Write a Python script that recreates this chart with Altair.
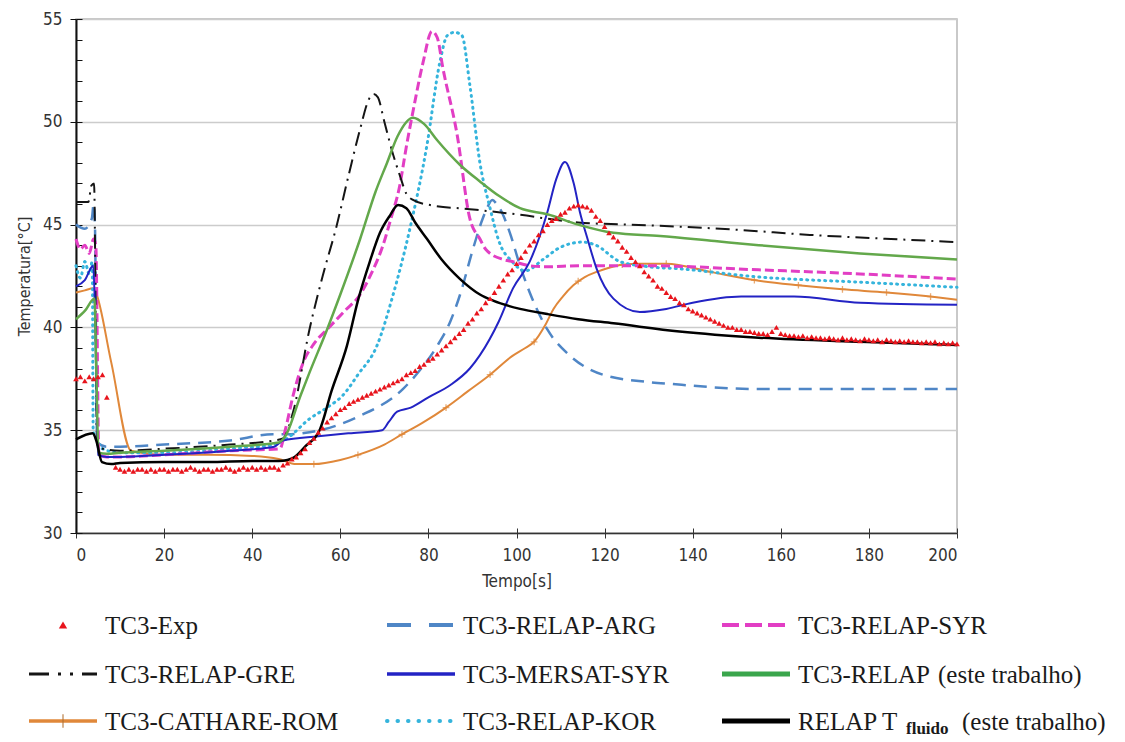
import altair as alt
import pandas as pd

# ---------------- data ----------------
# TC3-Exp (red triangles), sampled every second
exp_t = [0, 1, 2, 3, 4, 5, 6, 7] + list(range(9, 201))
exp_T = [37.5, 37.6, 37.4, 37.6, 37.5, 37.6, 37.7, 36.6,
         33.2, 33.1, 33.0, 33.1, 33.0, 33.1, 33.1, 33.0, 33.1, 33.0, 33.1, 33.1,
         33.0, 33.1, 33.1, 33.0, 33.1, 33.2, 33.1, 33.0, 33.1, 33.1,
         33.0, 33.1, 33.1, 33.2, 33.1, 33.0, 33.1, 33.2, 33.1, 33.2,
         33.1, 33.2, 33.1, 33.2, 33.2, 33.1, 33.3, 33.4, 33.6, 33.7,
         33.9, 34.1, 34.4, 34.6, 34.9, 35.1, 35.4, 35.6, 35.8, 36.0,
         36.1, 36.3, 36.4, 36.5, 36.6, 36.7, 36.8, 36.9, 37.0, 37.1,
         37.2, 37.3, 37.4, 37.5, 37.7, 37.8, 37.9, 38.1, 38.2, 38.4,
         38.5, 38.7, 38.9, 39.1, 39.3, 39.5, 39.7, 39.9, 40.2, 40.4,
         40.7, 40.9, 41.2, 41.4, 41.7, 42.0, 42.3, 42.6, 42.8, 43.1,
         43.4, 43.7, 44.0, 44.2, 44.5, 44.7, 45.0, 45.2, 45.3, 45.5,
         45.6, 45.8, 45.9, 45.95, 45.9, 45.85, 45.7, 45.4, 45.2, 44.9,
         44.6, 44.4, 44.2, 43.9, 43.7, 43.4, 43.2, 43.0, 42.7, 42.5,
         42.3, 42.0, 41.9, 41.7, 41.5, 41.4, 41.2, 41.1, 40.9, 40.8,
         40.7, 40.6, 40.5, 40.4, 40.3, 40.2, 40.1, 40.0, 40.0, 39.9,
         39.9, 39.8, 39.8, 39.75, 39.7, 39.7, 39.65, 39.8, 40.0, 39.7,
         39.65, 39.6, 39.6, 39.55, 39.6, 39.5, 39.55, 39.5, 39.5, 39.45,
         39.5, 39.45, 39.4, 39.5, 39.4, 39.45, 39.4, 39.35, 39.45, 39.4,
         39.35, 39.4, 39.3, 39.4, 39.35, 39.3, 39.35, 39.3, 39.35, 39.3,
         39.3, 39.25, 39.3, 39.25, 39.3, 39.2, 39.25, 39.2, 39.25, 39.2]

# TC3-RELAP-ARG
arg_t = [0, 2, 3.6, 4.0, 4.3, 4.8, 7, 10, 20, 35, 44.7, 48, 53, 64.5, 74.2, 78, 82, 85,
         87.2, 90.1, 92, 93.3, 94.5, 95.5, 96.3, 98.5, 100.8, 103, 107, 112, 119.6,
         129.6, 135, 155, 200]
arg_T = [45.0, 44.8, 45.3, 46.0, 45.0, 34.4, 34.2, 34.2, 34.3, 34.5, 34.8, 34.8, 34.9,
         35.7, 37.0, 37.9, 39.1, 40.3, 41.6, 43.8, 45.1, 45.8, 46.2, 46.0, 45.75, 44.6,
         43.0, 41.7, 39.9, 38.65, 37.7, 37.35, 37.25, 37.0, 37.0]

# TC3-RELAP-KOR
kor_t = [0, 1, 2, 3, 3.7, 3.9, 4.6, 6, 10, 20, 35, 45, 47.9, 53, 57, 60.6, 64, 68.3,
         72, 75.8, 79.7, 82.6, 84.3, 86, 87.6, 89.4, 91.7, 94, 96, 99, 102, 106, 110,
         115, 118, 123.5, 130, 137, 155, 178, 200]
kor_T = [43.0, 42.4, 43.2, 42.6, 43.2, 35.0, 34.6, 34.1, 33.9, 33.9, 34.1, 34.3, 34.6,
         35.55, 36.1, 36.7, 37.7, 39.1, 41.6, 44.8, 48.9, 52.9, 54.2, 54.35, 54.2, 51.8,
         48.0, 45.8, 44.2, 43.2, 42.75, 43.3, 43.9, 44.15, 44.0, 43.2, 42.95, 42.85,
         42.45, 42.2, 41.95]

# TC3-RELAP-SYR
syr_t = [0, 1, 2, 3, 4, 4.5, 5.2, 7, 10, 20, 35, 46.3, 47.5, 49.3, 51.6, 54, 57, 61,
         64.5, 67, 69.7, 71.5, 73.5, 75, 76.5, 78.8, 80.8, 82, 83.3, 86.5, 89.4, 91.7,
         93, 97, 99.2, 103, 107, 114, 129.6, 155, 178, 200]
syr_T = [44.3, 43.8, 44.0, 43.6, 44.3, 44.0, 33.8, 33.7, 33.7, 33.8, 34.0, 34.1, 35.0,
         36.7, 38.3, 39.2, 39.9, 40.8, 41.6, 42.6, 44.0, 45.3, 46.9, 48.8, 50.5, 52.9,
         54.4, 54.1, 52.6, 49.4, 45.3, 44.3, 43.8, 43.3, 43.2, 43.0, 42.95, 43.0, 43.0,
         42.8, 42.6, 42.35]

# TC3-RELAP-GRE
gre_t = [0, 2.8, 3.5, 4.1, 4.8, 6, 10, 20, 35, 45, 47, 49.3, 53, 56, 59, 62, 64.5,
         66.5, 67.5, 68.5, 70, 72, 73.5, 75, 76.5, 80.4, 89.4, 100, 114, 125, 137, 150,
         166.6, 185, 200]
gre_T = [46.1, 46.1, 46.9, 47.0, 34.3, 34.1, 34.0, 34.1, 34.3, 34.5, 34.6, 35.9, 39.9,
         42.5, 44.8, 47.5, 49.65, 51.1, 51.35, 51.2, 50.0, 48.4, 47.4, 46.5, 46.2, 45.95,
         45.75, 45.5, 45.1, 45.0, 44.9, 44.75, 44.5, 44.3, 44.15]

# TC3-CATHARE-ROM (line) and its "+" markers
rom_t = [0, 2, 3.9, 4.5, 8, 12.5, 20, 30, 40, 46, 50, 54, 60, 64, 70, 74, 79, 84, 89,
         94, 99, 102, 104, 106.5, 108.4, 110.5, 112.9, 115.5, 118.2, 121, 124, 128, 134,
         144, 154, 164, 174, 184, 194, 200]
rom_T = [41.7, 41.8, 41.9, 41.7, 38.3, 34.0, 33.8, 33.8, 33.75, 33.6, 33.35, 33.35,
         33.55, 33.8, 34.3, 34.8, 35.4, 36.1, 36.9, 37.7, 38.6, 39.0, 39.3, 40.1, 40.9,
         41.5, 42.05, 42.45, 42.7, 42.9, 43.05, 43.1, 43.1, 42.7, 42.3, 42.05, 41.85,
         41.7, 41.5, 41.35]
rom_mark_t = [54, 64, 74, 84, 94, 104, 114, 124, 134, 144, 154, 164, 174, 184, 194]
rom_mark_T = [33.35, 33.8, 34.8, 36.1, 37.7, 39.3, 42.25, 43.05, 43.1, 42.7, 42.3,
              42.05, 41.85, 41.7, 41.5]

# TC3-MERSAT-SYR
mer_t = [0, 2, 3.9, 4.3, 5, 7, 10, 20, 35, 45, 47, 55, 62, 69.5, 71, 72.9, 76, 80, 85,
         89.4, 91.7, 96, 99.2, 103, 107, 109, 111, 113, 114.4, 116, 118.2, 122, 128,
         134, 140, 151, 163, 178, 200]
mer_T = [42.0, 42.3, 43.0, 41.0, 33.8, 33.7, 33.7, 33.8, 34.0, 34.2, 34.5, 34.7, 34.85,
         35.0, 35.4, 35.9, 36.1, 36.6, 37.2, 38.0, 38.65, 40.3, 41.9, 43.2, 45.6, 47.2,
         48.05, 47.0, 45.6, 44.4, 42.85, 41.4, 40.75, 40.9, 41.2, 41.5, 41.5, 41.2, 41.1]

# TC3-RELAP (este trabalho)
rel_t = [0, 2, 4.2, 4.6, 5.1, 7, 10, 20, 35, 46, 47.5, 51, 53, 57, 60, 64.5, 68, 70.6,
         73, 76.5, 79, 82, 87.2, 91.7, 96, 100.8, 107, 114, 122, 132.6, 145, 155, 178, 200]
rel_T = [40.4, 40.8, 41.4, 38.0, 33.9, 33.85, 33.9, 34.0, 34.2, 34.4, 34.7, 36.7, 37.8,
         39.9, 41.6, 44.3, 46.6, 48.0, 49.3, 50.2, 49.9, 49.1, 47.9, 47.1, 46.4, 45.8,
         45.5, 45.0, 44.6, 44.45, 44.2, 44.0, 43.6, 43.3]

# RELAP T_fluido (este trabalho)
flu_t = [0, 3.8, 4.6, 5.9, 8, 10, 20, 30, 40, 46, 48, 49.3, 52, 55.4, 58, 61.5, 64,
         66.7, 69, 71.3, 73.1, 75, 77, 79.7, 83, 87.2, 91.7, 94.7, 100.8, 107, 114, 122,
         137, 155, 178, 200]
flu_T = [34.55, 34.85, 34.5, 33.45, 33.35, 33.4, 33.45, 33.45, 33.5, 33.5, 33.55, 33.65,
         34.2, 35.05, 36.9, 39.1, 41.3, 43.2, 44.6, 45.45, 45.95, 45.8, 45.1, 44.3, 43.3,
         42.35, 41.6, 41.3, 40.9, 40.65, 40.4, 40.2, 39.8, 39.5, 39.3, 39.15]

# ---------------- styles ----------------
RED = "#e8141c"
ORANGE = "#e0883a"
SERIF = "Liberation Serif, Times New Roman, serif"
NARROW = "Liberation Sans Narrow, DejaVu Sans Condensed, Arial Narrow, sans-serif"

# (key, t, T, color, dash, width) in drawing order
line_series = [
    ("ROM", rom_t, rom_T, ORANGE, None, 2),
    ("ARG", arg_t, arg_T, "#4f86c6", [13, 8], 2.5),
    ("KOR", kor_t, kor_T, "#35b4dc", [1, 5], 3),
    ("SYR", syr_t, syr_T, "#e23ec4", [9, 4], 3),
    ("GRE", gre_t, gre_T, "#151515", [14, 6, 2, 6], 2),
    ("MER", mer_t, mer_T, "#2323c4", None, 2),
    ("REL", rel_t, rel_T, "#63a84b", None, 2.5),
    ("FLU", flu_t, flu_T, "#000000", None, 2.5),
]

W, H = 881, 514
xs = alt.Scale(domain=[0, 200], nice=False, zero=False)
ys = alt.Scale(domain=[30, 55], nice=False, zero=False)

xaxis = alt.Axis(values=list(range(0, 201, 20)), title="Tempo[s]", grid=False,
                 tickSize=5, labelPadding=9, labelFontSize=17, titleFontSize=17,
                 labelFont=NARROW, titleFont=NARROW, titleFontWeight="normal",
                 domainColor="#333333", domainWidth=1.5, tickColor="#333333",
                 labelColor="#333333", titleColor="#333333", titlePadding=10)
yaxis = alt.Axis(values=[30, 35, 40, 45, 50, 55], title="Temperatura[°C]", grid=True,
                 gridColor="#cccccc", gridWidth=1.5, tickSize=6, labelPadding=8,
                 labelFontSize=17, titleFontSize=16, labelFont=NARROW, titleFont=NARROW,
                 titleFontWeight="normal", domainColor="#111111", domainWidth=2,
                 tickColor="#111111", labelColor="#333333", titleColor="#333333",
                 titlePadding=10)
y_inner = alt.Axis(orient="right", offset=-W, values=list(range(30, 56)), labels=False,
                   domain=False, grid=False, tickSize=6, tickColor="#111111", title=None)
x_inner = alt.Axis(orient="bottom", offset=-5, values=list(range(0, 201, 20)),
                   labels=False, domain=False, grid=False, tickSize=5,
                   tickColor="#333333", title=None)

layers = []
for i, (key, t, T, color, dash, width) in enumerate(line_series):
    df = pd.DataFrame({"t": t, "T": T})
    kw = dict(color=color, strokeWidth=width, interpolate="monotone")
    if dash:
        kw["strokeDash"] = dash
    if key == "KOR":
        kw["strokeCap"] = "round"
    layers.append(
        alt.Chart(df).mark_line(**kw).encode(
            x=alt.X("t:Q", scale=xs, axis=xaxis if i == 0 else None),
            y=alt.Y("T:Q", scale=ys, axis=yaxis if i == 0 else None),
        )
    )

rom_marks = pd.DataFrame({"t": rom_mark_t, "T": rom_mark_T})
layers.insert(1, alt.Chart(rom_marks).mark_point(
    shape="M-1,0L1,0M0,-1L0,1", filled=False, size=45, strokeWidth=1.3, color=ORANGE
).encode(x=alt.X("t:Q", scale=xs, axis=None), y=alt.Y("T:Q", scale=ys, axis=None)))

exp_df = pd.DataFrame({"t": exp_t, "T": exp_T})
layers.append(alt.Chart(exp_df).mark_point(
    shape="triangle-up", filled=True, size=32, color=RED, opacity=1
).encode(x=alt.X("t:Q", scale=xs, axis=None), y=alt.Y("T:Q", scale=ys, axis=None)))

# inward tick marks (minor ticks on temperature, crossing ticks on time)
layers.append(alt.Chart(exp_df).mark_point(opacity=0).encode(
    x=alt.X("t:Q", scale=xs, axis=x_inner), y=alt.Y("T:Q", scale=ys, axis=y_inner)))

main = alt.layer(*layers).resolve_axis(x="independent", y="independent").properties(
    width=W, height=H)

# ---------------- legend panel ----------------
leg_keys = ["EXP", "GRE", "ROM", "ARG", "MER", "KOR", "SYR", "REL", "FLU"]
leg_labels = ["TC3-Exp", "TC3-RELAP-GRE", "TC3-CATHARE-ROM", "TC3-RELAP-ARG",
              "TC3-MERSAT-SYR", "TC3-RELAP-KOR", "TC3-RELAP-SYR", "TC3-RELAP", "RELAP T"]
leg_col = [0, 0, 0, 1, 1, 1, 2, 2, 2]
leg_row = [0, 1, 2, 0, 1, 2, 0, 1, 2]

LX0, LY0 = 76, 602          # page position of the legend panel origin
LW, LH = 1040, 130
col_sym = [29, 387, 722]
sym_len = 68
col_txt = [105, 463, 798]
row_y = [626, 675, 722]

lxs = alt.Scale(domain=[LX0, LX0 + LW], nice=False, zero=False)
lys = alt.Scale(domain=[LY0, LY0 + LH], nice=False, zero=False, reverse=True)

leg_style = {
    "GRE": ("#151515", [20, 9, 3, 9, 3, 9, 30], 3),
    "ROM": (ORANGE, None, 3.5),
    "ARG": ("#4f86c6", [24, 18], 4),
    "MER": ("#2323c4", None, 3.5),
    "KOR": ("#35b4dc", [0.5, 10], 4),
    "SYR": ("#e23ec4", [17, 6], 4),
    "REL": ("#3aa64c", None, 5),
    "FLU": ("#000000", None, 5),
}

leg_layers = []
for k, c, r in zip(leg_keys, leg_col, leg_row):
    if k not in leg_style:
        continue
    color, dash, width = leg_style[k]
    d = pd.DataFrame({"x0": [col_sym[c]], "x1": [col_sym[c] + sym_len], "y": [row_y[r]]})
    kw = dict(color=color, strokeWidth=width)
    if dash:
        kw["strokeDash"] = dash
    if k == "KOR":
        kw["strokeCap"] = "round"
    leg_layers.append(alt.Chart(d).mark_rule(**kw).encode(
        x=alt.X("x0:Q", scale=lxs, axis=None), x2="x1:Q",
        y=alt.Y("y:Q", scale=lys, axis=None)))

# symbols for Exp and ROM
ie, ir = leg_keys.index("EXP"), leg_keys.index("ROM")
d_exp = pd.DataFrame({"x": [col_sym[leg_col[ie]] + sym_len / 2], "y": [row_y[leg_row[ie]]]})
leg_layers.append(alt.Chart(d_exp).mark_point(
    shape="triangle-up", filled=True, size=70, color=RED, opacity=1).encode(
    x=alt.X("x:Q", scale=lxs, axis=None), y=alt.Y("y:Q", scale=lys, axis=None)))
d_rom = pd.DataFrame({"x": [col_sym[leg_col[ir]] + sym_len / 2], "y": [row_y[leg_row[ir]]]})
leg_layers.append(alt.Chart(d_rom).mark_point(
    shape="M0,-1L0,1", filled=False, size=180, strokeWidth=1.5, color="#b07030").encode(
    x=alt.X("x:Q", scale=lxs, axis=None), y=alt.Y("y:Q", scale=lys, axis=None)))

# labels
d_txt = pd.DataFrame({
    "x": [col_txt[c] for c in leg_col],
    "y": [row_y[r] for r in leg_row],
    "label": leg_labels,
})
leg_layers.append(alt.Chart(d_txt).mark_text(
    align="left", baseline="middle", font=SERIF, fontSize=25, color="#1a1a1a", dy=1).encode(
    x=alt.X("x:Q", scale=lxs, axis=None), y=alt.Y("y:Q", scale=lys, axis=None),
    text="label:N"))

# "(este trabalho)" suffixes and subscript "fluido"
d_suf = pd.DataFrame({"x": [938, 962], "y": [row_y[1], row_y[2]],
                      "label": ["(este trabalho)", "(este trabalho)"]})
leg_layers.append(alt.Chart(d_suf).mark_text(
    align="left", baseline="middle", font=SERIF, fontSize=25, color="#1a1a1a", dy=1).encode(
    x=alt.X("x:Q", scale=lxs, axis=None), y=alt.Y("y:Q", scale=lys, axis=None),
    text="label:N"))
d_sub = pd.DataFrame({"x": [906], "y": [row_y[2]], "label": ["fluido"]})
leg_layers.append(alt.Chart(d_sub).mark_text(
    align="left", baseline="middle", font=SERIF, fontSize=17, fontWeight="bold",
    color="#1a1a1a", dy=8).encode(
    x=alt.X("x:Q", scale=lxs, axis=None), y=alt.Y("y:Q", scale=lys, axis=None),
    text="label:N"))

legend = alt.layer(*leg_layers).properties(
    width=LW, height=LH, view=alt.ViewBackground(stroke="transparent"))

chart = alt.vconcat(main, legend, spacing=10).properties(
    padding={"left": 7, "top": 1, "right": 0, "bottom": 0}
).configure_view(stroke="#b8b8b8", strokeWidth=1.5)

chart.save("out.html", embed_options={"renderer": "svg", "actions": False})
